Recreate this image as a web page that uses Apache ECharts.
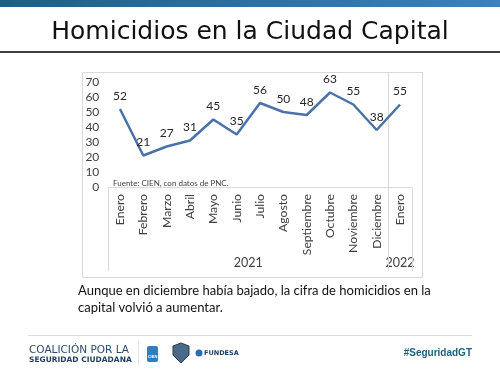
<!DOCTYPE html>
<html>
<head>
<meta charset="utf-8">
<script src="https://cdn.jsdelivr.net/npm/echarts@6/dist/echarts.min.js"></script>
<style>
  html, body { margin: 0; padding: 0; background: #fff; }
  #chart { width: 500px; height: 375px; }
</style>
</head>
<body>
<div id="chart"></div>
<script>
  // datos
  var months = ['Enero', 'Febrero', 'Marzo', 'Abril', 'Mayo', 'Junio', 'Julio', 'Agosto',
    'Septiembre', 'Octubre', 'Noviembre', 'Diciembre', 'Enero'];
  var years = ['2021', '2022'];
  var yearSpans = [12, 1];
  var homicidios = [52, 21, 27, 31, 45, 35, 56, 50, 48, 63, 55, 38, 55];

  var FONT = 'Lato, "Open Sans", sans-serif';
  var myChart = echarts.init(document.getElementById('chart'));

  var option = {
    animation: false,
    grid: { left: 108.3, right: 88.3, top: 82, bottom: 188 },
    xAxis: {
      type: 'category',
      data: months,
      boundaryGap: true,
      axisLine: { lineStyle: { color: '#d9d9d9', width: 1 } },
      axisTick: { show: false },
      axisLabel: { rotate: 90, margin: 7, fontSize: 12.2, color: '#404040', fontFamily: FONT }
    },
    yAxis: {
      type: 'value',
      min: 0, max: 70, interval: 10,
      axisLine: { show: false },
      axisTick: { show: false },
      splitLine: { show: false },
      axisLabel: { margin: 9, fontSize: 12, color: '#404040', fontFamily: FONT }
    },
    series: [{
      type: 'line',
      data: homicidios,
      symbol: 'circle',
      symbolSize: 0,
      itemStyle: { color: '#4a72a8' },
      lineStyle: { color: '#4a72a8', width: 2.5 },
      label: { show: true, position: 'top', distance: 7, fontSize: 12, color: '#262626', fontFamily: FONT }
    }],
    graphic: []
  };
  myChart.setOption(option);

  // lineas del eje de varios niveles, calculadas con la escala
  var c0 = myChart.convertToPixel({ xAxisIndex: 0 }, 0);
  var c1 = myChart.convertToPixel({ xAxisIndex: 0 }, 1);
  var bw = c1 - c0;
  var axisY = 188, lowY = 271;
  var g = [];

  // barra superior
  g.push({ type: 'rect', shape: { x: 0, y: 0, width: 500, height: 7 },
    style: { fill: new echarts.graphic.LinearGradient(0, 0, 1, 0, [
      { offset: 0, color: '#1c5f86' }, { offset: 1, color: '#3a82c0' }]) } });
  g.push({ type: 'text', left: 'center', top: 20,
    style: { text: 'Homicidios en la Ciudad Capital', fontSize: 25, fill: '#111', fontFamily: '"DejaVu Sans", sans-serif' } });
  g.push({ type: 'line', shape: { x1: 0, y1: 52, x2: 500, y2: 52 }, style: { stroke: '#404040', lineWidth: 2 } });

  // marco del grafico
  g.push({ type: 'rect', shape: { x: 82.5, y: 72.5, width: 340, height: 205 },
    style: { fill: null, stroke: '#d9d9d9', lineWidth: 1 }, z: -1 });

  var start = 0;
  var bounds = [c0 - bw / 2];
  yearSpans.forEach(function (n, i) {
    var a = myChart.convertToPixel({ xAxisIndex: 0 }, start);
    var b = myChart.convertToPixel({ xAxisIndex: 0 }, start + n - 1);
    g.push({ type: 'text', x: (a + b) / 2, y: 263,
      style: { text: years[i], fontSize: 12.5, fill: '#404040', fontFamily: FONT, align: 'center', verticalAlign: 'middle' } });
    start += n;
    bounds.push(b + bw / 2);
  });
  bounds.forEach(function (x, i) {
    var top = (i === 1) ? 72 : axisY;
    g.push({ type: 'line', shape: { x1: Math.round(x) + 0.5, y1: top, x2: Math.round(x) + 0.5, y2: lowY },
      style: { stroke: '#d9d9d9', lineWidth: 1 } });
  });

  g.push({ type: 'text', x: 113, y: 183,
    style: { text: 'Fuente: CIEN, con datos de PNC.', fontSize: 8, fill: '#404040', fontFamily: FONT, verticalAlign: 'middle' } });

  // texto
  g.push({ type: 'text', x: 78, y: 282,
    style: { text: 'Aunque en diciembre había bajado, la cifra de homicidios en la\ncapital volvió a aumentar.',
      fontSize: 13, lineHeight: 17, fill: '#111', fontFamily: FONT } });

  // pie
  g.push({ type: 'line', shape: { x1: 28, y1: 335.5, x2: 472, y2: 335.5 }, style: { stroke: '#dcdcdc', lineWidth: 1 } });
  g.push({ type: 'text', x: 29, y: 345,
    style: { text: 'COALICIÓN POR LA', fontSize: 10.5, fill: '#2b4a6e', fontFamily: '"DejaVu Sans", sans-serif' } });
  g.push({ type: 'text', x: 29, y: 356.5,
    style: { text: 'SEGURIDAD CIUDADANA', fontSize: 7.5, fontWeight: 'bold', fill: '#1f3a5c', fontFamily: '"DejaVu Sans", sans-serif' } });
  g.push({ type: 'line', shape: { x1: 138.5, y1: 341, x2: 138.5, y2: 366 }, style: { stroke: '#e5e5e5', lineWidth: 1 } });
  g.push({ type: 'rect', shape: { x: 147, y: 346, width: 11, height: 16, r: 2 }, style: { fill: '#2c7fc0' } });
  g.push({ type: 'text', x: 152.5, y: 357, style: { text: 'CIEN', fontSize: 4, fontWeight: 'bold', fill: '#fff', align: 'center', verticalAlign: 'middle' } });
  g.push({ type: 'polygon', shape: { points: [[173, 346], [181, 343], [189, 346], [189, 355], [181, 363], [173, 355]] },
    style: { fill: '#4a6a8a', stroke: '#2a3a4a', lineWidth: 1 } });
  g.push({ type: 'circle', shape: { cx: 199, cy: 353, r: 3.5 }, style: { fill: '#2a6cb5' } });
  g.push({ type: 'text', x: 204, y: 353,
    style: { text: 'FUNDESA', fontSize: 6.5, fontWeight: 'bold', fill: '#1d3d6b', fontFamily: '"DejaVu Sans", sans-serif', verticalAlign: 'middle' } });
  g.push({ type: 'text', x: 472, y: 353,
    style: { text: '#SeguridadGT', fontSize: 10, fontWeight: 'bold', fill: '#1b5e7e', fontFamily: '"Liberation Sans Narrow", "Liberation Sans", sans-serif', align: 'right', verticalAlign: 'middle' } });

  myChart.setOption({ graphic: g });
</script>
</body>
</html>
